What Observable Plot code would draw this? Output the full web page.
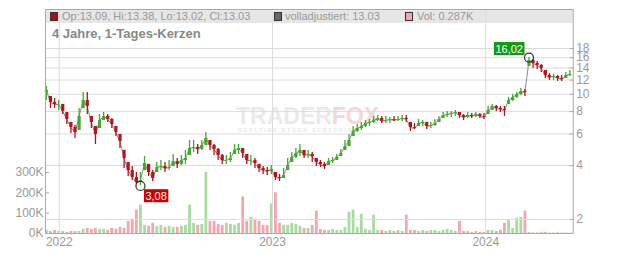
<!DOCTYPE html>
<html><head><meta charset="utf-8">
<script src="https://cdn.jsdelivr.net/npm/d3@7"></script>
<script src="https://cdn.jsdelivr.net/npm/@observablehq/plot@0.6"></script>
<style>
html,body{margin:0;padding:0;background:#fff;}
#wrap{position:relative;width:632px;height:253px;overflow:hidden;font-family:"Liberation Sans",Arial,sans-serif;}
#wrap svg{position:absolute;left:0;top:0;}
.band{position:absolute;left:45px;top:9px;width:528px;height:14px;background:#e6e6e6;}
.item{position:absolute;top:9px;height:14px;line-height:14px;font-size:11px;color:#999;white-space:nowrap;}
.sq{position:absolute;top:12px;width:6px;height:7px;border:1px solid #333;}
.title{position:absolute;left:52px;top:26px;font-size:13px;font-weight:bold;color:#888;white-space:nowrap;}
.wm{position:absolute;left:236px;top:106px;font-size:23px;line-height:20px;font-weight:bold;color:#eaeaea;white-space:nowrap;}
.wm span{color:#f6d6d6;}
.wm2{position:absolute;left:238px;top:127px;font-size:5.5px;line-height:6px;letter-spacing:1.6px;color:#e8e8e8;font-weight:bold;white-space:nowrap;}
</style></head>
<body>
<div id="wrap">
  <div class="band"></div>
  <div class="sq" style="left:50px;background:#b01010"></div>
  <div class="item" style="left:62px">Op:13.09, Hi:13.38, Lo:13.02, Cl:13.03</div>
  <div class="sq" style="left:274px;background:#666"></div>
  <div class="item" style="left:285px">volladjustiert: 13.03</div>
  <div class="sq" style="left:405px;background:#f4a6b0"></div>
  <div class="item" style="left:417px">Vol: 0.287K</div>
  <div class="title">4 Jahre, 1-Tages-Kerzen</div>
  <div class="wm">TRADER<span>FOX</span></div>
  <div class="wm2">REALTIME STOCK SCREENING</div>
</div>
<script>
// ---- data (weekly readings, first week ending 2021-12-10) ----
const startDate = "2021-12-10";
const firstOpen = 10.2;
const closes = [10.5, 9.0, 8.77, 8.77, 8.02, 7.23, 6.52, 6.12, 7.52, 9.23,
 8.55, 6.96, 5.96, 7.14, 7.52, 7.23, 6.78, 6.12, 5.45, 4.38,
 3.75, 3.43, 3.22, 3.30, 4.11, 3.66, 3.39, 3.90, 3.95, 3.85,
 3.90, 4.21, 4.06, 4.27, 4.38, 4.98, 5.05, 4.92, 5.18, 5.66,
 5.18, 4.92, 4.55, 4.27, 4.27, 4.38, 4.86, 4.98, 4.67, 4.27,
 4.27, 4.11, 3.85, 3.75, 3.71, 3.80, 3.43, 3.39, 3.52, 4.00,
 4.44, 4.67, 4.86, 4.55, 4.61, 4.49, 4.16, 4.06, 3.95, 4.21,
 4.27, 4.44, 4.67, 5.11, 5.52, 6.20, 6.44, 6.61, 6.87, 6.96,
 7.14, 7.33, 7.05, 7.14, 7.23, 7.14, 7.23, 7.33, 7.23, 6.52,
 6.44, 6.87, 6.96, 6.61, 6.69, 6.87, 7.23, 7.61, 7.71, 7.81,
 7.91, 7.61, 7.42, 7.61, 7.52, 7.71, 7.52, 7.42, 8.12, 8.55,
 8.33, 8.22, 8.12, 9.23, 9.60, 9.97, 10.36, 10.23, 15.44, 14.85,
 14.48, 13.93, 12.73, 12.41, 12.57, 12.25, 12.09, 12.73, 12.9];
const highs = [11.05, 9.72, 9.47, 9.23, 8.77, 7.91, 6.96, 6.69, 8.33, 10.23,
 10.23, 7.52, 6.61, 7.71, 7.91, 7.71, 7.33, 6.61, 5.96, 4.86,
 4.16, 3.95, 3.66, 3.66, 4.49, 4.06, 3.75, 4.16, 4.27, 4.16,
 4.27, 4.61, 4.38, 4.55, 4.86, 5.52, 5.52, 5.24, 5.52, 6.12,
 5.52, 5.24, 4.98, 4.61, 4.55, 4.73, 5.24, 5.24, 4.98, 4.61,
 4.55, 4.38, 4.06, 3.95, 3.90, 4.00, 3.66, 3.57, 3.85, 4.38,
 4.73, 4.98, 5.24, 4.86, 4.86, 4.73, 4.38, 4.27, 4.16, 4.38,
 4.44, 4.61, 4.92, 5.52, 5.96, 6.61, 6.78, 6.96, 7.14, 7.23,
 7.52, 7.61, 7.52, 7.52, 7.42, 7.52, 7.52, 7.61, 7.61, 6.96,
 6.87, 7.23, 7.14, 6.96, 6.96, 7.23, 7.52, 7.91, 8.02, 8.02,
 8.12, 7.91, 7.71, 7.91, 7.81, 7.91, 7.81, 7.81, 8.55, 8.77,
 8.66, 8.55, 8.55, 9.60, 9.97, 10.23, 10.77, 10.64, 16.02, 15.64,
 15.24, 14.66, 13.58, 13.06, 12.90, 12.73, 12.73, 13.23, 13.58];
const lows = [9.23, 8.33, 8.33, 8.12, 7.71, 6.78, 6.04, 5.66, 6.28, 8.33,
 7.71, 6.44, 5.24, 6.44, 7.14, 6.96, 6.44, 5.81, 4.98, 3.85,
 3.48, 3.30, 3.14, 3.08, 3.75, 3.48, 3.26, 3.66, 3.75, 3.66,
 3.75, 3.95, 3.85, 4.00, 4.06, 4.55, 4.73, 4.61, 4.86, 5.18,
 4.86, 4.55, 4.27, 4.06, 4.06, 4.16, 4.61, 4.61, 4.38, 4.06,
 4.00, 3.85, 3.66, 3.57, 3.52, 3.57, 3.30, 3.26, 3.39, 3.75,
 4.16, 4.38, 4.49, 4.38, 4.38, 4.16, 3.95, 3.90, 3.80, 4.00,
 4.11, 4.27, 4.49, 4.86, 5.11, 5.81, 6.12, 6.28, 6.52, 6.61,
 6.87, 7.05, 6.87, 6.87, 6.87, 7.05, 7.05, 7.05, 6.96, 6.20,
 6.36, 6.61, 6.61, 6.36, 6.44, 6.61, 6.96, 7.33, 7.42, 7.42,
 7.52, 7.33, 7.14, 7.33, 7.33, 7.42, 7.33, 7.23, 7.71, 8.12,
 8.02, 7.91, 7.52, 8.77, 9.11, 9.47, 9.85, 9.72, 14.29, 13.93,
 13.76, 13.23, 12.25, 11.94, 11.94, 11.79, 11.79, 12.25, 12.57];
const volumesK = [15, 10, 15, 10, 10, 5, 10, 10, 10, 20,
 25, 20, 25, 20, 20, 15, 25, 20, 30, 25,
 60, 70, 115, 140, 40, 35, 50, 35, 40, 30,
 35, 30, 30, 35, 40, 140, 50, 40, 45, 300,
 60, 60, 45, 40, 50, 45, 40, 50, 180, 60,
 80, 70, 60, 40, 40, 145, 200, 50, 40, 40,
 50, 45, 35, 25, 25, 40, 110, 20, 15, 15,
 20, 15, 15, 30, 105, 115, 30, 95, 20, 15,
 90, 15, 15, 10, 15, 10, 15, 10, 90, 15,
 15, 10, 15, 10, 15, 15, 10, 15, 20, 15,
 10, 60, 10, 10, 5, 10, 5, 5, 15, 15,
 10, 15, 50, 65, 25, 75, 80, 110, 5, 3,
 3, 4, 5, 2, 2, 3, 2, 2, 2];
const yearTicks = ["2022-01-01", "2023-01-01", "2024-01-01"];
const yearLabels = ["2022", "2023", "2024"];
const priceTicks = [2, 4, 6, 8, 10, 12, 14, 16, 18];
const volTicks = [0, 100000, 200000, 300000];
const volTickLabels = ["0K", "100K", "200K", "300K"];
const extremes = [
  {date: "2024-03-15", price: 16.02, label: "16,02", kind: "hi"},
  {date: "2022-05-20", price: 3.08, label: "3,08", kind: "lo"}
];

// ---- build rows ----
const rows = closes.map((c, i) => {
  const prev = i === 0 ? firstOpen : closes[i - 1];
  const open = Math.max(lows[i], Math.min(highs[i], prev));
  return {date: d3.utcDay.offset(new Date(startDate), 7 * i), open, close: c, high: highs[i], low: lows[i], vol: volumesK[i] * 1000, up: c >= open};
});
const yearDates = yearTicks.map(d => new Date(d));
const xDomain = [new Date("2021-12-08T12:00Z"), new Date("2024-05-29T16:00Z")];
const common = {
  width: 632, height: 253, marginLeft: 45, marginRight: 59.3, marginTop: 9, marginBottom: 20,
  style: {fontFamily: "'Liberation Sans', Arial, sans-serif", fontSize: "12px", color: "#999", background: "transparent", overflow: "visible"}
};

const volPlot = Plot.plot({
  ...common,
  x: {type: "utc", domain: xDomain, axis: null},
  y: {domain: [0, 1103000]},
  marks: [
    Plot.ruleX(rows, {x: "date", y: "vol", stroke: d => d.up ? "#a8dba2" : "#f2a6ad", strokeWidth: 2.8}),
    Plot.axisY({anchor: "left", ticks: volTicks, tickFormat: d => volTickLabels[volTicks.indexOf(d)], tickSize: -4, tickPadding: 6, label: null, stroke: "#aaa"})
  ]
});

const pricePlot = Plot.plot({
  ...common,
  x: {type: "utc", domain: xDomain},
  y: {type: "log", domain: [1.671, 29.7]},
  marks: [
    Plot.gridX({ticks: yearDates, stroke: "#dcdcdc", strokeOpacity: 1}),
    Plot.gridY({ticks: priceTicks, stroke: "#dcdcdc", strokeOpacity: 1}),
    Plot.line(rows, {x: "date", y: "close", stroke: "#8a8a8a", strokeWidth: 1}),
    Plot.ruleX(rows, {x: "date", y1: "low", y2: "high", stroke: d => d.up ? "#46a82e" : "#b8121c", strokeWidth: 1.3}),
    Plot.ruleX(rows, {x: "date", y1: "open", y2: "close", stroke: d => d.up ? "#46a82e" : "#b8121c", strokeWidth: 3.2}),
    Plot.axisY({anchor: "right", ticks: priceTicks, tickFormat: d => String(d), tickSize: -4, tickPadding: 7, label: null, stroke: "#aaa"}),
    Plot.axisX({ticks: yearDates, tickFormat: d => yearLabels[yearDates.findIndex(y => +y === +d)], tickSize: 0, tickPadding: 4, label: null}),
    Plot.frame({stroke: "#aaa"}),
    Plot.dot(extremes, {x: d => new Date(d.date), y: "price", r: 4.5, stroke: "#333", fill: "none", strokeWidth: 1.2}),
    Plot.text(extremes.filter(d => d.kind === "hi"), {x: d => new Date(d.date), y: "price", text: "label", textAnchor: "end", lineAnchor: "bottom", dx: -6, dy: -5, fill: "white", fontSize: 11}),
    Plot.text(extremes.filter(d => d.kind === "lo"), {x: d => new Date(d.date), y: "price", text: "label", textAnchor: "start", lineAnchor: "top", dx: 5, dy: 6, fill: "white", fontSize: 11})
  ]
});

const wrap = document.getElementById("wrap");
wrap.appendChild(volPlot);
wrap.appendChild(pricePlot);

// label backgrounds sized from the rendered text
const svgBox = pricePlot.getBoundingClientRect();
const ns = "http://www.w3.org/2000/svg";
pricePlot.querySelectorAll("text").forEach(t => {
  const ex = extremes.find(e => e.label === t.textContent);
  if (!ex) return;
  const b = t.getBoundingClientRect();
  const r = document.createElementNS(ns, "rect");
  r.setAttribute("x", b.left - svgBox.left - 1.5);
  r.setAttribute("y", b.top - svgBox.top - 0.5);
  r.setAttribute("width", b.width + 3);
  r.setAttribute("height", b.height + 1);
  r.setAttribute("fill", ex.kind === "hi" ? "#109a10" : "#cc0000");
  const g = t.parentNode;
  const bg = document.createElementNS(ns, "g");
  bg.appendChild(r);
  pricePlot.appendChild(bg);
  pricePlot.appendChild(g);
});
</script>
</body></html>
